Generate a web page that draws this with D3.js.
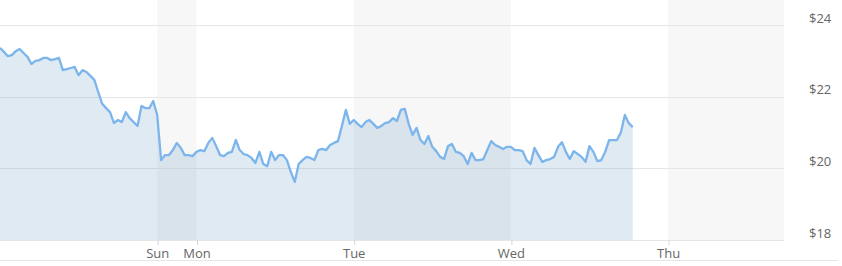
<!DOCTYPE html>
<html>
<head>
<meta charset="utf-8">
<script src="https://cdn.jsdelivr.net/npm/d3@7"></script>
<style>
  body { margin: 0; background: #fff; }
  svg { display: block; font-family: "Open Sans", sans-serif; }
</style>
</head>
<body>
<svg width="842" height="266"></svg>
<script>
// price samples, one every 0.6 trading hours from the start of the window
var prices = [
    23.36, 23.25, 23.13, 23.16, 23.27, 23.33, 23.22, 23.11, 22.91, 23.00,
    23.02, 23.08, 23.08, 23.02, 23.05, 23.08, 22.74, 22.77, 22.80, 22.83,
    22.60, 22.74, 22.69, 22.58, 22.47, 22.13, 21.80, 21.68, 21.57, 21.26,
    21.35, 21.29, 21.57, 21.40, 21.29, 21.18, 21.74, 21.68, 21.68, 21.88,
    21.49, 20.23, 20.37, 20.37, 20.51, 20.71, 20.57, 20.37, 20.37, 20.34,
    20.46, 20.51, 20.48, 20.71, 20.85, 20.62, 20.37, 20.34, 20.43, 20.46,
    20.79, 20.51, 20.40, 20.37, 20.29, 20.15, 20.46, 20.12, 20.06, 20.46,
    20.23, 20.37, 20.37, 20.23, 19.90, 19.62, 20.12, 20.23, 20.32, 20.29,
    20.23, 20.51, 20.54, 20.51, 20.65, 20.71, 20.76, 21.18, 21.63, 21.24,
    21.35, 21.24, 21.15, 21.29, 21.35, 21.24, 21.13, 21.18, 21.26, 21.29,
    21.40, 21.32, 21.63, 21.66, 21.24, 20.93, 21.13, 20.79, 20.68, 20.90,
    20.60, 20.48, 20.32, 20.26, 20.62, 20.68, 20.46, 20.43, 20.34, 20.12,
    20.43, 20.23, 20.23, 20.26, 20.51, 20.76, 20.65, 20.60, 20.54, 20.60,
    20.60, 20.51, 20.51, 20.48, 20.23, 20.12, 20.57, 20.37, 20.18, 20.23,
    20.26, 20.32, 20.60, 20.73, 20.46, 20.26, 20.48, 20.40, 20.32, 20.18,
    20.62, 20.46, 20.20, 20.23, 20.46, 20.79, 20.79, 20.79, 21.01, 21.49,
    21.26, 21.15
];
var stepHours = 0.6;

// day ticks in trading hours (Sunday session is short)
var dayLabels = ["Sun", "Mon", "Tue", "Wed", "Thu"];
var dayHours = [24, 30, 54, 78, 102];
var endHours = 119.7;

var yTicks = [18, 20, 22, 24];

var svg = d3.select("svg"),
    width = 784,
    plotBottom = 240,
    g = svg.append("g");

var data = prices.map(function (p, i) {
    return {t: i * stepHours, price: p};
});

var x = d3.scaleLinear()
    .domain([0, endHours])
    .range([0, width]);

var y = d3.scaleLinear()
    .domain([18, 24])
    .range([plotBottom, 25]);

// alternating day bands
var bands = [];
for (var i = 0; i < dayHours.length; i += 2) {
    bands.push([dayHours[i], i + 1 < dayHours.length ? dayHours[i + 1] : endHours]);
}
g.selectAll(".band")
    .data(bands)
    .enter().append("rect")
    .attr("class", "band")
    .attr("x", function (d) { return x(d[0]); })
    .attr("y", 0)
    .attr("width", function (d) { return x(d[1]) - x(d[0]); })
    .attr("height", plotBottom)
    .attr("fill", "#f7f7f7");

// grid lines
g.selectAll(".grid")
    .data(yTicks)
    .enter().append("line")
    .attr("class", "grid")
    .attr("x1", 0)
    .attr("x2", width)
    .attr("y1", function (d) { return Math.round(y(d)) + 0.5; })
    .attr("y2", function (d) { return Math.round(y(d)) + 0.5; })
    .attr("stroke", "#e6e6e6")
    .attr("stroke-width", 1);

var area = d3.area()
    .x(function (d) { return x(d.t); })
    .y0(plotBottom)
    .y1(function (d) { return y(d.price); });

var line = d3.line()
    .x(function (d) { return x(d.t); })
    .y(function (d) { return y(d.price); });

g.append("path")
    .datum(data)
    .attr("d", area)
    .attr("fill", "rgba(100,150,190,0.2)");

g.append("path")
    .datum(data)
    .attr("d", line)
    .attr("fill", "none")
    .attr("stroke", "#7cb5ec")
    .attr("stroke-width", 2.3)
    .attr("stroke-linejoin", "round");

// x axis
var xAxis = g.append("g")
    .attr("transform", "translate(0," + plotBottom + ")")
    .call(d3.axisBottom(x)
        .tickValues(dayHours)
        .tickSize(5)
        .tickPadding(4)
        .tickFormat(function (d, i) { return dayLabels[i]; }));
xAxis.select(".domain").remove();
xAxis.selectAll(".tick line").attr("stroke", "#ccd6eb").attr("transform", "translate(0.5,0)");
xAxis.selectAll(".tick text")
    .attr("fill", "#666")
    .style("font-size", "13px")
    .style("font-family", "'Open Sans', sans-serif");

// y axis labels on the right
var yAxis = g.append("g")
    .attr("transform", "translate(809,0)")
    .call(d3.axisRight(y)
        .tickValues(yTicks)
        .tickSize(0)
        .tickPadding(0)
        .tickFormat(function (d) { return "$" + d; }));
yAxis.select(".domain").remove();
yAxis.selectAll(".tick text")
    .attr("fill", "#666")
    .attr("dy", "-3px")
    .attr("dominant-baseline", "auto")
    .style("font-size", "13px")
    .style("font-family", "'Open Sans', sans-serif");

// bottom rule
g.append("line")
    .attr("x1", 0)
    .attr("x2", 838)
    .attr("y1", 260.5)
    .attr("y2", 260.5)
    .attr("stroke", "#e6e6e6");
</script>
</body>
</html>
